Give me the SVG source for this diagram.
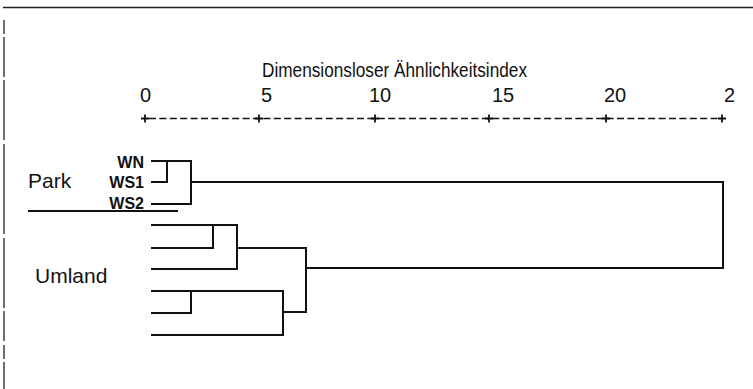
<svg xmlns="http://www.w3.org/2000/svg" width="753" height="389" viewBox="0 0 753 389">
<style>
text{font-family:"Liberation Sans",Arial,sans-serif;fill:#111}
.num{font-size:20px}
.leaf{font-size:16px;text-anchor:end;font-weight:bold}
.grp{font-size:21px}
.ln{stroke:#111;stroke-width:2;fill:none;stroke-linecap:square}
.frame{stroke:#222;fill:none}
</style>
<rect width="753" height="389" fill="#fff"/>
<g id="frame">
<line class="frame" x1="3" y1="7.5" x2="753" y2="7.5" stroke-width="1.6"/>
<line class="frame" x1="4" y1="20" x2="4" y2="389" stroke-width="1.3" stroke-dasharray="14,3,40,3,60,4,90,4,70,3,30,4"/>
</g>
<g id="title"><text x="262" y="77" font-size="21" textLength="265" lengthAdjust="spacingAndGlyphs">Dimensionsloser Ähnlichkeitsindex</text></g>
<g id="axis">
<text class="num" x="140" y="102">0</text>
<text class="num" x="261" y="102">5</text>
<text class="num" x="369" y="102">10</text>
<text class="num" x="492" y="102">15</text>
<text class="num" x="604" y="102">20</text>
<text class="num" x="724" y="102">2</text>
<line x1="149" y1="118.5" x2="719" y2="118.5" stroke="#111" stroke-width="1.5" stroke-dasharray="7,3.4"/>
<path d="M141 118.5h8M145 114.5v8M255 118.5h8M259 114.5v8M371 118.5h8M375 114.5v8M485 118.5h8M489 114.5v8M602 118.5h8M606 114.5v8M718 118.5h8M722 114.5v8" stroke="#111" stroke-width="1.8"/>
</g>
<g id="park"><text class="grp" x="28" y="188">Park</text>
<line x1="28" y1="211" x2="178" y2="211" stroke="#111" stroke-width="1.8"/></g>
<g id="umland"><text class="grp" x="35" y="283" font-size="22">Umland</text></g>
<g id="leaf-WN"><text class="leaf" x="144" y="168">WN</text></g>
<g id="leaf-WS1"><text class="leaf" x="144" y="188">WS1</text></g>
<g id="leaf-WS2"><text class="leaf" x="144" y="209">WS2</text></g>
<g id="connectors">
<path class="ln" d="M152 161H191V204H152M167 161V182H152M191 182H723V268H306"/>
<path class="ln" d="M152 225H237V269H152M213 225V248H152M237 248H306V312H283"/>
<path class="ln" d="M152 291H283V335H152M191 291V313H152"/>
</g>
</svg>
